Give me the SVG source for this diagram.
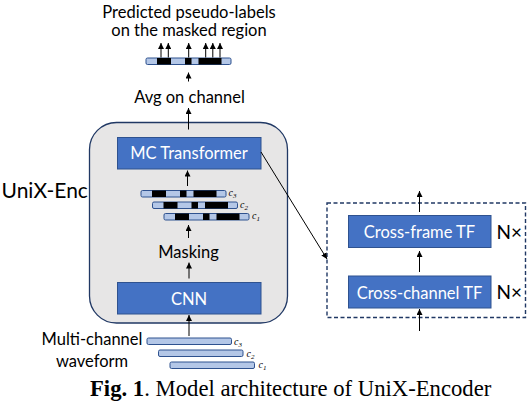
<svg xmlns="http://www.w3.org/2000/svg" width="528" height="404" viewBox="0 0 528 404">
<style>
.t{font-family:Lato,"Open Sans",sans-serif;font-size:16.5px;fill:#000}
.w{font-family:Lato,"Open Sans",sans-serif;font-size:16.5px;fill:#fff}
.nx{font-family:Lato,"Open Sans",sans-serif;font-size:19px;fill:#000}
.box{fill:#4472c4;stroke:#2f528f;stroke-width:1}
.bar{fill:#b4c7e7;stroke:#2f528f;stroke-width:1}
.blk{fill:#000}
.c{font-family:"Liberation Serif",serif;font-style:italic;font-size:10px;fill:#000}
.c tspan{font-size:7px}
.ln{stroke:#000;stroke-width:1;fill:none}
</style>
<defs>
<marker id="ah" markerWidth="6" markerHeight="6" refX="6" refY="3" orient="auto" markerUnits="userSpaceOnUse">
<path d="M0,0 L6,3 L0,6 Z" fill="#000"/>
</marker>
<g id="mask">
<rect class="bar" x="0" y="0" width="85" height="6.5" rx="1.5"/>
<rect class="blk" x="11" y="0" width="14" height="6.5"/>
<rect class="blk" x="39" y="0" width="6.5" height="6.5"/>
<rect class="blk" x="52.5" y="0" width="23" height="6.5"/>
</g>
</defs>

<g id="title">
<text class="t" x="189" y="17.5" text-anchor="middle">Predicted pseudo-labels</text>
<text class="t" x="189" y="35.5" text-anchor="middle">on the masked region</text>
</g>

<g id="pseudo-labels">
<use href="#mask" x="146" y="58"/>
</g>

<g id="avg">
<text class="t" x="189.5" y="102.5" text-anchor="middle">Avg on channel</text>
</g>

<g id="unix-enc">
<rect x="89.5" y="122.5" width="198" height="200.5" rx="27" fill="#e7e6e6" stroke="#203864" stroke-width="1.3"/>
<text x="1.5" y="197.5" font-family="Lato,'Open Sans',sans-serif" font-size="21px">UniX-Enc</text>
</g>

<g id="mc-transformer">
<rect class="box" x="117.5" y="137.5" width="143.5" height="31.5"/>
<text class="w" x="189" y="158.5" text-anchor="middle">MC Transformer</text>
</g>

<g id="masked-features">
<use href="#mask" x="141" y="190.5"/>
<use href="#mask" x="152.5" y="202"/>
<use href="#mask" x="164" y="213.5"/>
<text class="c" x="228.5" y="196">c<tspan dy="2">3</tspan></text>
<text class="c" x="240" y="207.5">c<tspan dy="2">2</tspan></text>
<text class="c" x="252" y="219">c<tspan dy="2">1</tspan></text>
</g>

<g id="masking">
<text class="t" x="188.5" y="258" text-anchor="middle">Masking</text>
</g>

<g id="cnn">
<rect class="box" x="117.5" y="282.5" width="143.5" height="31.5"/>
<text class="w" x="189" y="304.5" text-anchor="middle">CNN</text>
</g>

<g id="input">
<text class="t" x="92" y="345" text-anchor="middle">Multi-channel</text>
<text class="t" x="92" y="366.5" text-anchor="middle">waveform</text>
<rect class="bar" x="147" y="338" width="84.5" height="6.5" rx="1.5"/>
<rect class="bar" x="158.5" y="350" width="84.5" height="6.5" rx="1.5"/>
<rect class="bar" x="170" y="362" width="84.5" height="6.5" rx="1.5"/>
<text class="c" x="234" y="344.5">c<tspan dy="2">3</tspan></text>
<text class="c" x="246.5" y="356.5">c<tspan dy="2">2</tspan></text>
<text class="c" x="258.5" y="368">c<tspan dy="2">1</tspan></text>
</g>

<g id="tf-block">
<rect x="327" y="203" width="198.5" height="114.5" fill="none" stroke="#203864" stroke-width="1.4" stroke-dasharray="4 2.5"/>
</g>

<g id="cross-frame-tf">
<rect class="box" x="348.5" y="215.5" width="142.5" height="32"/>
<text class="w" x="419.5" y="238" text-anchor="middle">Cross-frame TF</text>
<text class="nx" x="496.5" y="238.5">N×</text>
</g>

<g id="cross-channel-tf">
<rect class="box" x="348.5" y="276" width="142.5" height="32"/>
<text class="w" x="419.5" y="298.5" text-anchor="middle">Cross-channel TF</text>
<text class="nx" x="496.5" y="298.5">N×</text>
</g>

<g id="connectors">
<line class="ln" x1="161" y1="57.5" x2="161" y2="43" marker-end="url(#ah)"/>
<line class="ln" x1="168.3" y1="57.5" x2="168.3" y2="43" marker-end="url(#ah)"/>
<line class="ln" x1="188.7" y1="57.5" x2="188.7" y2="43" marker-end="url(#ah)"/>
<line class="ln" x1="205.7" y1="57.5" x2="205.7" y2="43" marker-end="url(#ah)"/>
<line class="ln" x1="212.8" y1="57.5" x2="212.8" y2="43" marker-end="url(#ah)"/>
<line class="ln" x1="220" y1="57.5" x2="220" y2="43" marker-end="url(#ah)"/>
<line class="ln" x1="188.5" y1="81.5" x2="188.5" y2="72.5" marker-end="url(#ah)"/>
<line class="ln" x1="188.5" y1="129.5" x2="188.5" y2="108" marker-end="url(#ah)"/>
<line class="ln" x1="187.5" y1="186" x2="187.5" y2="170.5" marker-end="url(#ah)"/>
<line class="ln" x1="188.5" y1="238" x2="188.5" y2="225" marker-end="url(#ah)"/>
<line class="ln" x1="189" y1="278.5" x2="189" y2="262.5" marker-end="url(#ah)"/>
<line class="ln" x1="189" y1="336" x2="189" y2="315" marker-end="url(#ah)"/>
<line class="ln" x1="261" y1="152" x2="327" y2="259" marker-end="url(#ah)"/>
<line class="ln" x1="419.5" y1="212" x2="419.5" y2="191" marker-end="url(#ah)"/>
<line class="ln" x1="419.5" y1="272" x2="419.5" y2="251" marker-end="url(#ah)"/>
<line class="ln" x1="419.5" y1="331" x2="419.5" y2="309" marker-end="url(#ah)"/>
</g>

<g id="caption">
<text x="90" y="395.5" font-family="'Liberation Serif',serif" font-size="22.7px"><tspan font-weight="bold">Fig. 1</tspan>. Model architecture of UniX-Encoder</text>
</g>
</svg>
